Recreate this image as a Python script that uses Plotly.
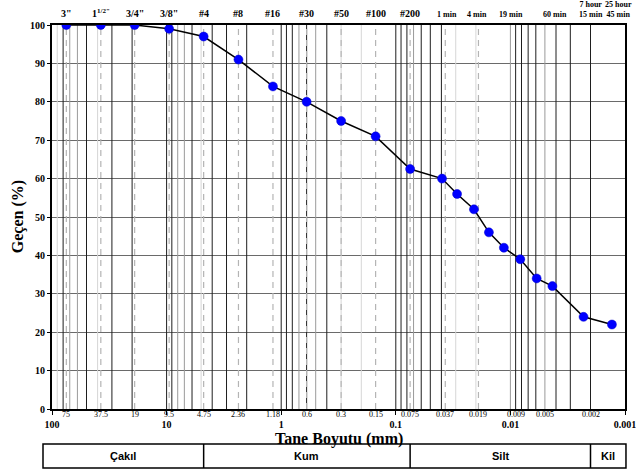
import math
import plotly.graph_objects as go

# ---- data ----
sizes_mm = [75, 37.5, 19, 9.5, 4.75, 2.36, 1.18, 0.6, 0.3, 0.15, 0.075,
            0.0395, 0.0292, 0.0208, 0.0154, 0.0114, 0.0082, 0.0059, 0.0043, 0.0023, 0.0013]
passing = [100, 100, 100, 99, 97, 91, 84, 80, 75, 71, 62.5,
           60, 56, 52, 46, 42, 39, 34, 32, 24, 22]

sieve_ticks = [75, 37.5, 19, 9.5, 4.75, 2.36, 1.18, 0.6, 0.3, 0.15, 0.075, 0.037, 0.019, 0.009, 0.005, 0.002]
sieve_tick_text = ["75", "37.5", "19", "9.5", "4.75", "2.36", "1.18", "0.6", "0.3", "0.15", "0.075",
                   "0.037", "0.019", "0.009", "0.005", "0.002"]
decade_ticks = [100, 10, 1, 0.1, 0.01, 0.001]
decade_text = ["100", "10", "1", "0.1", "0.01", "0.001"]

top_pos = [75, 37.5, 19, 9.5, 4.75, 2.36, 1.18, 0.6, 0.3, 0.15, 0.075]
top_text = ['3"', '1<sup>1/2"</sup>', '3/4"', '3/8"', '#4', '#8', '#16', '#30', '#50', '#100', '#200']
time_pos = [0.036, 0.0195, 0.0099, 0.0041, 0.0020, 0.001]
time_text = ["1 min", "4 min", "19 min", "60 min", "7 hour<br>15 min", "25 hour<br>45 min"]
time_anchor = ["center", "center", "center", "center", "center", "right"]
time_shift = [0, 0, 0, 0, 0, 9]

dashed_pos = [75, 37.5, 19, 9.5, 4.75, 2.36, 1.18, 0.6, 0.3, 0.15, 0.075, 0.037, 0.019]

classes = ["Çakıl", "Kum", "Silt", "Kil"]
class_bounds = [4.75, 0.075, 0.002]

SERIF = "Liberation Serif, Times New Roman, serif"
SANS = "Liberation Sans, Arial, sans-serif"

# grid line shade per decade, multipliers 2..9 ("b" black, "g" gray, "l" light)
grid_style = {
    10:    {2: "b", 3: "b", 4: "l", 5: "b", 6: "g", 7: "g", 8: "b", 9: "l"},
    1:     {2: "b", 3: "b", 4: "b", 5: "l", 6: "b", 7: "g", 8: "g", 9: "b"},
    0.1:   {2: "l", 3: "l", 4: "b", 5: "g", 6: "b", 7: "g", 8: "b", 9: "b"},
    0.01:  {2: "l", 3: "l", 4: "b", 5: "b", 6: "b", 7: "g", 8: "b", 9: "b"},
    0.001: {2: "b", 3: "b", 4: "b", 5: "g", 6: "b", 7: "b", 8: "b", 9: "b"},
}
decade_style = {10: "b", 1: "b", 0.1: "b", 0.01: "g"}
colors = {"b": "#1e1e1e", "g": "#9a9a9a", "l": "#d6d6d6"}

fig = go.Figure()

groups = {"b": ([], []), "g": ([], []), "l": ([], [])}
for dec, st in grid_style.items():
    for m, s in st.items():
        v = dec * m
        groups[s][0].extend([v, v, None]); groups[s][1].extend([0, 100, None])
for dec, s in decade_style.items():
    groups[s][0].extend([dec, dec, None]); groups[s][1].extend([0, 100, None])

for key in ["l", "g", "b"]:
    gx, gy = groups[key]
    fig.add_trace(go.Scatter(x=gx, y=gy, mode="lines", line=dict(color=colors[key], width=1),
                             hoverinfo="skip", showlegend=False))

dx, dy = [], []
for v in dashed_pos:
    dx += [v, v, None]; dy += [0, 100, None]
fig.add_trace(go.Scatter(x=dx, y=dy, mode="lines", line=dict(color="#b4b4b4", width=1.2, dash="6px,5px"),
                         hoverinfo="skip", showlegend=False))

fig.add_trace(go.Scatter(x=sizes_mm, y=passing, mode="lines+markers",
                         line=dict(color="black", width=1.5),
                         marker=dict(color="#0000ff", size=9, line=dict(color="#0000cc", width=0.5)),
                         showlegend=False))

fig.update_xaxes(type="log", range=[2, -3], showgrid=False, zeroline=False, automargin=False,
                 ticklabeloverflow="allow", ticklabelstandoff=1,
                 tickvals=decade_ticks, ticktext=["<b>%s</b>" % t for t in decade_text],
                 tickfont=dict(family=SERIF, size=10, color="black"),
                 ticks="outside", ticklen=4, tickcolor="black",
                 showline=True, linecolor="black", linewidth=2, mirror=True)
fig.update_yaxes(range=[0, 100], tickvals=list(range(0, 101, 10)), automargin=False,
                 ticktext=["<b>%d</b>" % v for v in range(0, 101, 10)],
                 tickfont=dict(family=SERIF, size=10, color="black"),
                 ticks="outside", ticklen=3, tickcolor="black",
                 showgrid=True, gridcolor="#6a6a6a", gridwidth=1, zeroline=False,
                 showline=True, linecolor="black", linewidth=2, mirror=True)

ann = []
for v, t in zip(sieve_ticks, sieve_tick_text):
    ann.append(dict(x=math.log10(v), y=0, xref="x", yref="y", text=t, showarrow=False,
                    xanchor="center", yanchor="top", yshift=1,
                    font=dict(family=SERIF, size=8, color="black")))
for v, t in zip(top_pos, top_text):
    ann.append(dict(x=math.log10(v), y=1, xref="x", yref="paper", text="<b>%s</b>" % t, showarrow=False,
                    xanchor="center", yanchor="bottom", yshift=4,
                    font=dict(family=SERIF, size=10, color="black")))
for v, t, a, s in zip(time_pos, time_text, time_anchor, time_shift):
    ann.append(dict(x=math.log10(v), y=1, xref="x", yref="paper", text="<b>%s</b>" % t, showarrow=False,
                    xanchor=a, yanchor="bottom", yshift=4, xshift=s,
                    font=dict(family=SERIF, size=8, color="black")))

ann.append(dict(x=0.5, y=-0.077, xref="paper", yref="paper", text="<b>Tane Boyutu (mm)</b>",
                xanchor="center", yanchor="middle",
                showarrow=False, font=dict(family=SERIF, size=16, color="black")))
ann.append(dict(x=-0.059, y=0.5, xref="paper", yref="paper", text="<b>Geçen (%)</b>", textangle=-90,
                xanchor="center", yanchor="middle",
                showarrow=False, font=dict(family=SERIF, size=16, color="black")))

# classification bar
def px(d):
    return (2 - math.log10(d)) / 5.0

bx = [-0.0157] + [px(b) for b in class_bounds] + [1.0017]
y0, y1 = -0.1536, -0.0911
shapes = [dict(type="rect", xref="paper", yref="paper", x0=bx[0], x1=bx[-1], y0=y0, y1=y1,
               line=dict(color="black", width=1.5))]
for b in bx[1:-1]:
    shapes.append(dict(type="line", xref="paper", yref="paper", x0=b, x1=b, y0=y0, y1=y1,
                       line=dict(color="black", width=1.5)))
for i, c in enumerate(classes):
    ann.append(dict(x=(bx[i] + bx[i + 1]) / 2, y=(y0 + y1) / 2, xref="paper", yref="paper",
                    text="<b>%s</b>" % c, showarrow=False, xanchor="center", yanchor="middle",
                    font=dict(family=SANS, size=11, color="black")))

fig.update_layout(width=636, height=472, margin=dict(l=52, r=11, t=25, b=63),
                  paper_bgcolor="white", plot_bgcolor="white",
                  annotations=ann, shapes=shapes, showlegend=False)

fig.write_html("out.html")
